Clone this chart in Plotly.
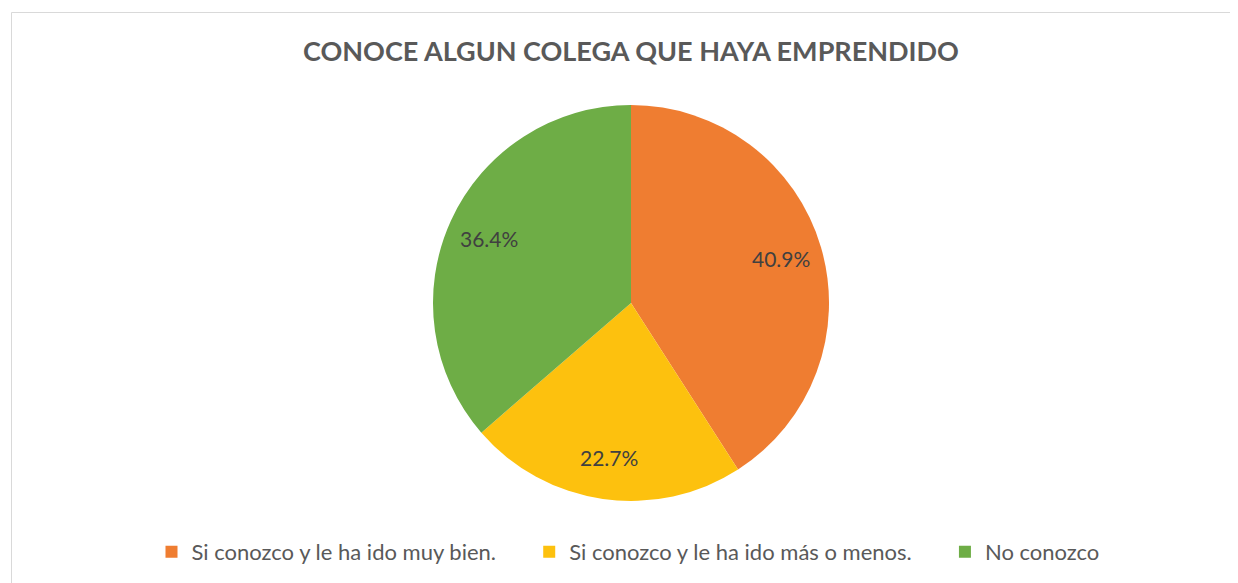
import math
import plotly.graph_objects as go

categories = ["Si conozco y le ha ido muy bien.", "Si conozco y le ha ido más o menos.", "No conozco"]
values = [9, 5, 8]
colors = ["#EF7D31", "#FDC10E", "#6EAD46"]
title_text = "CONOCE ALGUN COLEGA QUE HAYA EMPRENDIDO"

# page is offset by 8px body margin
W, H = 1238, 583
off = 8
cx, cy, r = 631 - off, 303 - off, 198
label_frac = 0.79

# extra trailing space after legend entries to widen gaps between items
pad = [5, 5, 0]
legend_labels = [c + "\u00a0" * p for c, p in zip(categories, pad)]

fig = go.Figure(go.Pie(
    labels=legend_labels,
    values=values,
    sort=False,
    direction="clockwise",
    rotation=0,
    marker=dict(colors=colors, line=dict(width=0)),
    textinfo="none",
    domain=dict(x=[(cx - r) / W, (cx + r) / W], y=[1 - (cy + r) / H, 1 - (cy - r) / H]),
    hoverinfo="label+percent",
))

# percentage labels placed along each slice bisector (derived from the values)
total = sum(values)
cum = 0
annotations = []
for v in values:
    mid = (cum + v / 2) / total * 2 * math.pi
    cum += v
    px = cx + label_frac * r * math.sin(mid)
    py = cy - label_frac * r * math.cos(mid)
    annotations.append(dict(
        x=px / W, y=1 - py / H, xref="paper", yref="paper",
        text=f"{v / total * 100:.1f}%", showarrow=False,
        xanchor="center", yanchor="middle",
        font=dict(family="Lato", size=21, color="#404040"),
    ))

fig.update_layout(
    width=W, height=H,
    margin=dict(l=0, r=0, t=0, b=0),
    paper_bgcolor="white",
    plot_bgcolor="white",
    title=dict(text=f"<b>{title_text}</b>", x=cx / W, y=1 - (52 - off) / H, xanchor="center", yanchor="middle",
               font=dict(family="Lato", size=27, color="#595959")),
    legend=dict(orientation="h", x=620 / W, y=1 - (552 - off) / H, xanchor="center", yanchor="middle",
                font=dict(family="Lato", size=22, color="#595959"), traceorder="normal"),
    annotations=annotations,
    shapes=[dict(type="rect", xref="paper", yref="paper", x0=(11.5 - off) / W, x1=1.05, y0=-0.05,
                 y1=1 - (12.5 - off) / H,
                 line=dict(color="#D9D9D9", width=1), fillcolor="rgba(0,0,0,0)", layer="below")],
)

fig.write_html("out.html")
